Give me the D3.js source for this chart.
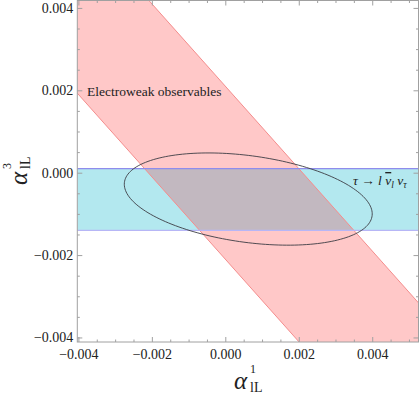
<!DOCTYPE html>
<html>
<head>
<meta charset="utf-8">
<script src="https://d3js.org/d3.v7.min.js"></script>
<style>
body { margin: 0; background: #fff; }
svg text { font-family: "Liberation Serif", "Times New Roman", serif; fill: #222; }
</style>
</head>
<body>
<svg id="chart" width="420" height="395"></svg>
<script>
// axis ranges (alpha^1_lL horizontally, alpha^3_lL vertically)
var xDomain = [-0.00403, 0.00526];
var yDomain = [-0.00411, 0.00418];

var majorTicks = [-0.004, -0.002, 0, 0.002, 0.004];
var majorLabels = ["\u22120.004", "\u22120.002", "0.000", "0.002", "0.004"];
var minorTicksX = [-0.0035, -0.003, -0.0025, -0.0015, -0.001, -0.0005, 0.0005, 0.001, 0.0015, 0.0025, 0.003, 0.0035, 0.0045, 0.005];
var minorTicksY = [-0.0035, -0.003, -0.0025, -0.0015, -0.001, -0.0005, 0.0005, 0.001, 0.0015, 0.0025, 0.003, 0.0035];

// tau -> l nu nu band in alpha^3
var tauBand = [-0.0014, 0.0001];
// electroweak band: alpha^1 + alpha^3 between these
var ewBand = [-0.0021, 0.0021];
// ellipse: center, alpha^1 half width, alpha^3 coupling of cos and sin parts
var ellCenter = [0.000625, -0.00064];
var ellCos = [0.003375, -0.00036];
var ellSin = [0, 0.00106];

var pLeft = 77.3, pRight = 418.5, pTop = 0.5, pBottom = 342;

var x = d3.scaleLinear().domain(xDomain).range([pLeft, pRight]);
var y = d3.scaleLinear().domain(yDomain).range([pBottom, pTop]);

var svg = d3.select("#chart");

var defs = svg.append("defs");
defs.append("clipPath").attr("id", "plotclip")
	.append("rect").attr("x", pLeft).attr("y", pTop).attr("width", pRight - pLeft).attr("height", pBottom - pTop);
defs.append("clipPath").attr("id", "tauclip")
	.append("rect").attr("x", pLeft).attr("y", y(tauBand[1])).attr("width", pRight - pLeft).attr("height", y(tauBand[0]) - y(tauBand[1]));

var plot = svg.append("g").attr("clip-path", "url(#plotclip)");

// blue band
plot.append("rect")
	.attr("x", pLeft).attr("width", pRight - pLeft)
	.attr("y", y(tauBand[1])).attr("height", y(tauBand[0]) - y(tauBand[1]))
	.attr("fill", "#b3e8ef");

// pink band polygon
var far = 0.01;
var ewPoly = [
	[-far, far + ewBand[0]], [far, -far + ewBand[0]],
	[far, -far + ewBand[1]], [-far, far + ewBand[1]]
];
var poly = d3.line().x(function(d){ return x(d[0]); }).y(function(d){ return y(d[1]); });

plot.append("path").attr("d", poly(ewPoly) + "Z").attr("fill", "#ffc8c8");
plot.append("path").attr("d", poly(ewPoly) + "Z").attr("fill", "#c2b8c0").attr("clip-path", "url(#tauclip)");

// band edges
ewBand.forEach(function(c){
	plot.append("path").attr("d", poly([[-far, far + c], [far, -far + c]]))
		.attr("stroke", "#f48c8c").attr("stroke-width", 1).attr("fill", "none");
});
plot.append("line").attr("x1", pLeft).attr("x2", pRight).attr("y1", y(tauBand[1])).attr("y2", y(tauBand[1]))
	.attr("stroke", "#8f8cec").attr("stroke-width", 1.2);
plot.append("line").attr("x1", pLeft).attr("x2", pRight).attr("y1", y(tauBand[0])).attr("y2", y(tauBand[0]))
	.attr("stroke", "#b7b6f6").attr("stroke-width", 1.2);

// ellipse
var ts = d3.range(0, 360, 2);
var ell = d3.line()
	.x(function(t){ var r = t * Math.PI / 180; return x(ellCenter[0] + ellCos[0] * Math.cos(r) + ellSin[0] * Math.sin(r)); })
	.y(function(t){ var r = t * Math.PI / 180; return y(ellCenter[1] + ellCos[1] * Math.cos(r) + ellSin[1] * Math.sin(r)); })
	.curve(d3.curveCardinalClosed);
plot.append("path").attr("d", ell(ts))
	.attr("fill", "none").attr("stroke", "#3c3c44").attr("stroke-width", 0.9);

// frame
svg.append("rect").attr("x", pLeft).attr("y", pTop).attr("width", pRight - pLeft).attr("height", pBottom - pTop)
	.attr("fill", "none").attr("stroke", "#a0a0a0").attr("stroke-width", 1);

function fmt(d){ return majorLabels[majorTicks.indexOf(d)]; }

function frameAxis(make, scale, vals, size, labels){
	return make(scale).tickValues(vals).tickSizeInner(-size).tickSizeOuter(0)
		.tickFormat(labels ? fmt : function(){ return ""; });
}

var axes = [
	[d3.axisBottom, x, "translate(0," + pBottom + ")", 7, true, minorTicksX],
	[d3.axisTop, x, "translate(0," + pTop + ")", 4, false, minorTicksX],
	[d3.axisLeft, y, "translate(" + pLeft + ",0)", 4, true, minorTicksY],
	[d3.axisRight, y, "translate(" + pRight + ",0)", 4, false, minorTicksY]
];
axes.forEach(function(a){
	var gMaj = svg.append("g").attr("transform", a[2])
		.call(frameAxis(a[0], a[1], majorTicks, 5, a[4]).tickPadding(a[3]));
	var gMin = svg.append("g").attr("transform", a[2])
		.call(frameAxis(a[0], a[1], a[5], 2.5, false));
	[gMaj, gMin].forEach(function(g){
		g.attr("font-family", null).attr("font-size", null);
		g.select(".domain").remove();
		g.selectAll("line").attr("stroke", "#a0a0a0");
		g.selectAll("text").attr("font-size", 14).attr("fill", "#222");
	});
});

// axis titles
function axisTitle(g, sup){
	g.append("text").attr("font-style", "italic").attr("font-size", 25).text("\u03b1");
	g.append("text").attr("x", 16).attr("y", -16.3).attr("font-size", 12).text(sup);
	g.append("text").attr("x", 16).attr("y", 3).attr("font-size", 14).text("lL");
}
axisTitle(svg.append("g").attr("transform", "translate(234,389)"), "1");
axisTitle(svg.append("g").attr("transform", "translate(27,185) rotate(-90)"), "3");

// annotations
svg.append("text").attr("x", 87).attr("y", 95.5).attr("font-size", 13.5).text("Electroweak observables");

var tau = svg.append("text").attr("x", 353).attr("y", 185).attr("font-size", 13.5);
tau.append("tspan").attr("font-style", "italic").text("\u03c4");
tau.append("tspan").text(" \u2192 ");
tau.append("tspan").attr("font-style", "italic").text("l");
tau.append("tspan").text(" ");
tau.append("tspan").attr("font-style", "italic").style("text-decoration", "overline").text("\u03bd");
tau.append("tspan").attr("font-style", "italic").attr("font-size", 9.5).attr("dy", 3).text("l");
tau.append("tspan").attr("dy", -3).text(" ");
tau.append("tspan").attr("font-style", "italic").text("\u03bd");
tau.append("tspan").attr("font-style", "italic").attr("font-size", 9.5).attr("dy", 3).text("\u03c4");
</script>
</body>
</html>
